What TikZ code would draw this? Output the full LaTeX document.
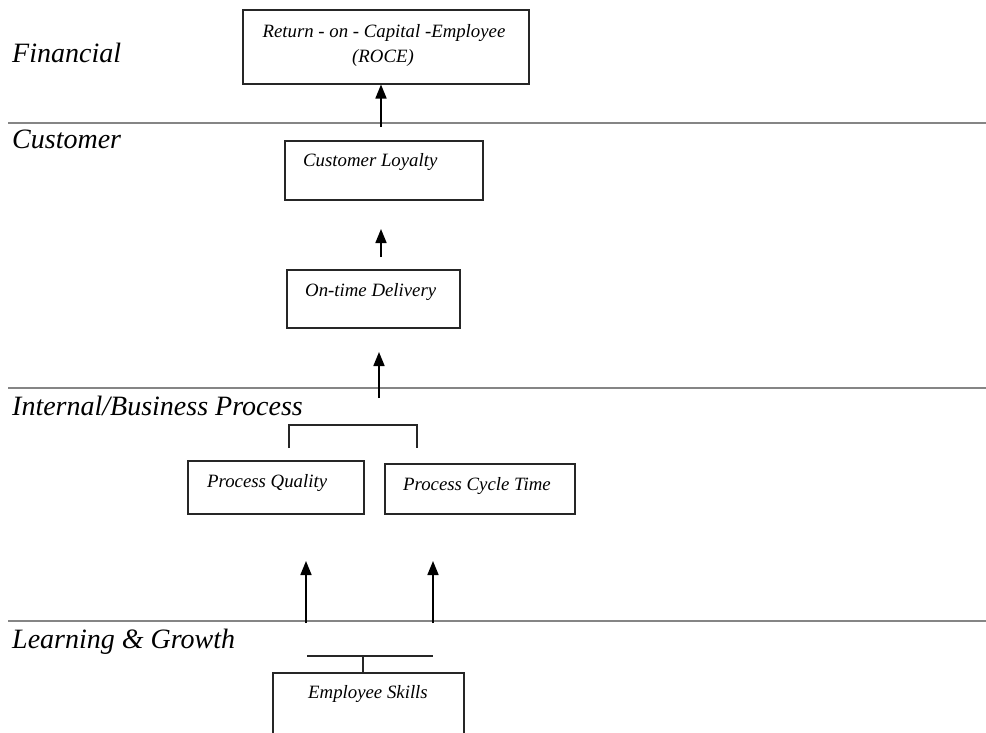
\documentclass[tikz,border=0pt]{standalone}
\usepackage{fontspec}
\setmainfont{Liberation Serif}
\usetikzlibrary{arrows.meta}

\tikzset{
  layer/.style={draw=black!48, line width=1.8pt},
  layertitle/.style={anchor=base west, inner sep=0pt, font=\fontsize{28}{33}\selectfont\itshape},
  kpibox/.style={draw=black!85, line width=1.5pt, anchor=north west, inner sep=0pt},
  kpitext/.style={anchor=base west, inner sep=0pt, font=\fontsize{18.8}{22}\selectfont\itshape},
  kpictext/.style={kpitext, anchor=base},
  link/.style={line width=1.7pt, -{Triangle[length=14pt,width=11pt]}},
  bracket/.style={line width=1.6pt, draw=black!85}
}

\begin{document}
\begin{tikzpicture}[x=1pt,y=-1pt]
\useasboundingbox (0,0) rectangle (986,732);
\clip (0,0) rectangle (986,732);

% perspective separators
\coordinate (s1w) at (8,123);  \coordinate (s1e) at (986,123);
\coordinate (s2w) at (8,388);  \coordinate (s2e) at (986,388);
\coordinate (s3w) at (8,621);  \coordinate (s3e) at (986,621);
\draw[layer] (s1w) -- (s1e);
\draw[layer] (s2w) -- (s2e);
\draw[layer] (s3w) -- (s3e);

% perspective titles
\node[layertitle] (tfin) at (12,62)  {Financial};
\node[layertitle] (tcus) at (12,148) {Customer};
\node[layertitle] (tint) at (12,415) {Internal/Business Process};
\node[layertitle] (tlrn) at (12,648) {Learning \& Growth};

% boxes
\node[kpibox, minimum width=286pt, minimum height=74pt] (roce) at (242,9) {};
\node[kpibox, minimum width=198pt, minimum height=59pt] (loyal) at (284,140) {};
\node[kpibox, minimum width=173pt, minimum height=58pt] (deliv) at (286,269) {};
\node[kpibox, minimum width=176pt, minimum height=53pt] (pqual) at (187,460) {};
\node[kpibox, minimum width=190pt, minimum height=50pt] (pcycle) at (384,463) {};
\node[kpibox, minimum width=191pt, minimum height=80pt] (skills) at (272,672) {};

% box texts
\node[kpictext] (troce1) at (384,37) {Return - on - Capital -Employee};
\node[kpictext] (troce2) at (383,62) {(ROCE)};
\node[kpitext] (tloyal) at (303,166) {Customer Loyalty};
\node[kpitext] (tdeliv) at (305,296) {On-time Delivery};
\node[kpitext] (tpqual) at (207,487) {Process Quality};
\node[kpitext] (tpcycle) at (403,490) {Process Cycle Time};
\node[kpitext] (tskills) at (308,698) {Employee Skills};

% arrows
\coordinate (r0) at (381,127);
\draw[link] (r0) -- (r0 |- roce.south);
\coordinate (c0) at (381,257);
\coordinate (c1) at (381,229);
\draw[link] (c0) -- (c1);
\coordinate (d0) at (379,398);
\coordinate (d1) at (379,352);
\draw[link] (d0) -- (d1);
\coordinate (p0) at (306,623);
\coordinate (p1) at (306,561);
\draw[link] (p0) -- (p1);
\coordinate (q0) at (433,623);
\coordinate (q1) at (433,561);
\draw[link] (q0) -- (q1);

% brackets
\coordinate (bl) at (289,448);
\coordinate (br) at (417,448);
\draw[bracket] (bl) -- (289,425) -- (417,425) -- (br);
\coordinate (el) at (307,656);
\coordinate (er) at (433,656);
\draw[bracket] (el) -- (er);
\draw[bracket] (skills.north -| 363,0) -- (363,656);
\end{tikzpicture}
\end{document}
